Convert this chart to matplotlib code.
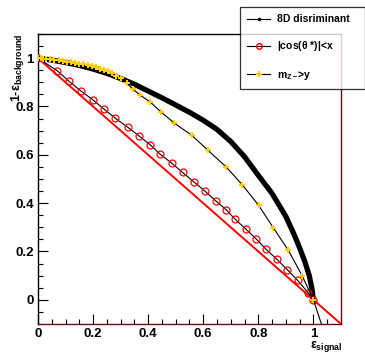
import matplotlib
matplotlib.use('Agg')
import matplotlib.pyplot as plt
from matplotlib.ticker import FixedLocator, MultipleLocator, FuncFormatter

plt.rcParams['font.family'] = ['Liberation Sans', 'DejaVu Sans']
plt.rcParams['font.weight'] = 'bold'
plt.rcParams['mathtext.fontset'] = 'custom'
plt.rcParams['mathtext.rm'] = 'Liberation Sans:bold'
plt.rcParams['mathtext.bf'] = 'Liberation Sans:bold'
plt.rcParams['mathtext.it'] = 'Liberation Sans:bold'

# 8D discriminant ROC curve
eff_8d = [0, 0.05, 0.10, 0.15, 0.20, 0.25, 0.30, 0.35, 0.40, 0.45, 0.50, 0.55,
          0.60, 0.65, 0.70, 0.75, 0.80, 0.85, 0.90, 0.93, 0.95, 0.97, 0.985, 0.995, 1.0]
rej_8d = [1.0, 0.992, 0.982, 0.970, 0.955, 0.937, 0.916, 0.892, 0.864, 0.836, 0.806, 0.776,
          0.743, 0.705, 0.655, 0.592, 0.515, 0.440, 0.345, 0.270, 0.215, 0.155, 0.100, 0.045, 0.0]

# |cos(theta*)| < x cut scan
eff_cos = [0, 0.070, 0.113, 0.155, 0.200, 0.240, 0.280, 0.326, 0.367, 0.407, 0.443, 0.486,
           0.525, 0.565, 0.606, 0.645, 0.684, 0.716, 0.755, 0.793, 0.828, 0.868, 0.905,
           0.943, 0.981, 1.0]
rej_cos = [1.0, 0.948, 0.904, 0.865, 0.827, 0.789, 0.752, 0.714, 0.678, 0.642, 0.603, 0.565,
           0.527, 0.489, 0.450, 0.410, 0.372, 0.333, 0.292, 0.251, 0.209, 0.167, 0.125,
           0.080, 0.029, 0.0]

# m_Z' > y cut scan
eff_mz = [0, 0.01, 0.02, 0.03, 0.045, 0.06, 0.075, 0.09, 0.105, 0.12, 0.135, 0.15, 0.165,
          0.18, 0.195, 0.21, 0.225, 0.24, 0.255, 0.27, 0.285, 0.30, 0.322, 0.344, 0.371,
          0.407, 0.446, 0.494, 0.559, 0.617, 0.682, 0.742, 0.801, 0.854, 0.909, 0.959, 1.0, 1.035]
rej_mz = [1.0, 0.999, 0.998, 0.997, 0.995, 0.993, 0.991, 0.989, 0.986, 0.983, 0.980, 0.977,
          0.974, 0.970, 0.966, 0.962, 0.957, 0.951, 0.945, 0.937, 0.928, 0.918, 0.897, 0.872,
          0.847, 0.819, 0.778, 0.732, 0.680, 0.619, 0.551, 0.476, 0.391, 0.299, 0.205, 0.100,
          0.0, -0.12]

diag_x = [0, 1.1]
diag_y = [1, -0.1]

major_ticks = [0, 0.2, 0.4, 0.6, 0.8, 1.0]

fig = plt.figure(figsize=(3.65, 3.54), dpi=100)
ax = fig.add_axes([0.104, 0.085, 0.830, 0.819])

ax.plot(diag_x, diag_y, color='#ff0000', lw=1.4, zorder=2)
ax.plot(eff_8d, rej_8d, color='black', lw=3.8, solid_capstyle='round', zorder=3)
ax.plot(eff_cos, rej_cos, color='black', lw=0.8, marker='o', ms=5, mfc='none',
        mec='#ff0000', mew=0.9, zorder=4)
ax.plot(eff_mz, rej_mz, color='black', lw=0.8, marker='P', ms=5, mfc='#ffcc00',
        mec='#ffcc00', mew=0, zorder=5)

ax.xaxis.set_major_locator(FixedLocator(major_ticks))
ax.yaxis.set_major_locator(FixedLocator(major_ticks))
ax.xaxis.set_minor_locator(MultipleLocator(0.05))
ax.yaxis.set_minor_locator(MultipleLocator(0.05))
fmt = FuncFormatter(lambda v, p: '%g' % round(v, 2))
ax.xaxis.set_major_formatter(fmt)
ax.yaxis.set_major_formatter(fmt)
ax.set_xlim(0, 1.1)
ax.set_ylim(-0.1, 1.1)
ax.tick_params(which='both', direction='in', top=False, right=False, labelsize=9.5, width=0.8)
ax.tick_params(which='major', length=7, pad=3)
ax.tick_params(which='minor', length=3.5)
for lab in ax.get_xticklabels() + ax.get_yticklabels():
    lab.set_fontweight('bold')

for side in ['left', 'top']:
    ax.spines[side].set_color('black')
for side in ['right', 'bottom']:
    ax.spines[side].set_color('#6b1010')
for s in ax.spines.values():
    s.set_linewidth(1.0)

fig.text(0.025, 0.905, r'1-$\epsilon_{\mathbf{background}}$', rotation=90,
         ha='left', va='top', fontsize=9, fontweight='bold')
fig.text(0.938, 0.0, r'$\epsilon_{\mathbf{signal}}$', ha='right', va='bottom',
         fontsize=9, fontweight='bold')

h1, = ax.plot([], [], color='black', lw=0.8, marker='.', ms=3)
h2, = ax.plot([], [], color='black', lw=0.8, marker='o', ms=4, mfc='none', mec='#ff0000')
h3, = ax.plot([], [], color='black', lw=0.8, marker='P', ms=4, mfc='#ffcc00', mec='#ffcc00', mew=0)
leg = fig.legend([h1, h2, h3], ['8D disriminant', r'|cos($\theta$ *)|<x', r'm$_{\mathbf{Z-}}$>y'],
                 loc='upper left', bbox_to_anchor=(0.658, 0.980, 0.342, 0.0), mode='expand',
                 borderaxespad=0, fontsize=7.5, frameon=True, fancybox=False, handlelength=2.2,
                 labelspacing=1.45, borderpad=0.7, handletextpad=0.6)
leg.get_frame().set_edgecolor('black')
leg.get_frame().set_linewidth(0.9)
for t in leg.get_texts():
    t.set_fontweight('bold')

fig.savefig('out.png', dpi=100)
